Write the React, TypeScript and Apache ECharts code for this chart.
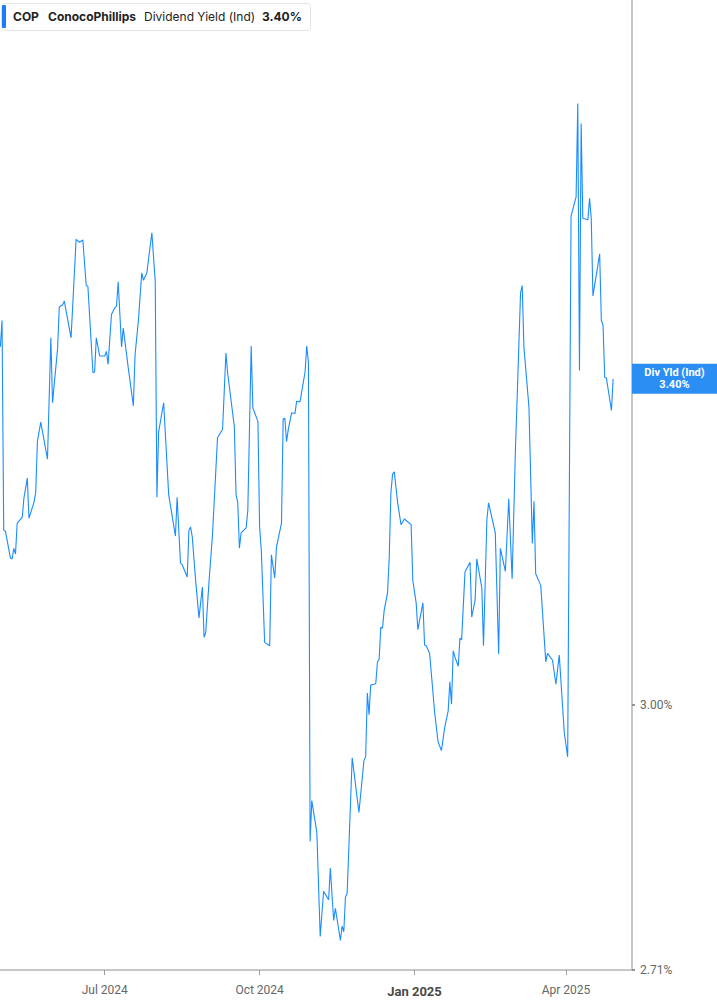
import React, { useEffect, useRef } from "react";
import * as echarts from "echarts";

const dates: string[] = [
  "2024-04-30","2024-05-01","2024-05-02","2024-05-03","2024-05-06","2024-05-07","2024-05-08","2024-05-09","2024-05-10","2024-05-13",
  "2024-05-14","2024-05-16","2024-05-17","2024-05-20","2024-05-21","2024-05-22","2024-05-24","2024-05-28","2024-05-30","2024-05-31",
  "2024-06-03","2024-06-04","2024-06-06","2024-06-07","2024-06-11","2024-06-14","2024-06-16","2024-06-18","2024-06-20","2024-06-21",
  "2024-06-24","2024-06-25","2024-06-26","2024-06-28","2024-07-01","2024-07-02","2024-07-03","2024-07-05","2024-07-07","2024-07-08",
  "2024-07-09","2024-07-11","2024-07-12","2024-07-15","2024-07-18","2024-07-19","2024-07-21","2024-07-23","2024-07-24","2024-07-26",
  "2024-07-29","2024-07-31","2024-08-01","2024-08-02","2024-08-05","2024-08-08","2024-08-12","2024-08-13","2024-08-15","2024-08-16",
  "2024-08-19","2024-08-20","2024-08-21","2024-08-22","2024-08-24","2024-08-26","2024-08-28","2024-08-29","2024-08-30","2024-09-01",
  "2024-09-03","2024-09-06","2024-09-09","2024-09-11","2024-09-12","2024-09-16","2024-09-17","2024-09-18","2024-09-19","2024-09-20",
  "2024-09-23","2024-09-24","2024-09-26","2024-09-27","2024-09-30","2024-10-01","2024-10-02","2024-10-04","2024-10-07","2024-10-08",
  "2024-10-10","2024-10-11","2024-10-14","2024-10-15","2024-10-16","2024-10-17","2024-10-18","2024-10-20","2024-10-22","2024-10-23",
  "2024-10-25","2024-10-28","2024-10-29","2024-10-30","2024-10-31","2024-11-01","2024-11-04","2024-11-06","2024-11-08","2024-11-11",
  "2024-11-12","2024-11-14","2024-11-15","2024-11-18","2024-11-19","2024-11-20","2024-11-21","2024-11-22","2024-11-25","2024-11-29",
  "2024-12-02","2024-12-03","2024-12-04","2024-12-05","2024-12-06","2024-12-08","2024-12-09","2024-12-10","2024-12-11","2024-12-12",
  "2024-12-13","2024-12-14","2024-12-16","2024-12-17","2024-12-18","2024-12-19","2024-12-20","2024-12-22","2024-12-24","2024-12-26",
  "2024-12-30","2024-12-31","2025-01-02","2025-01-03","2025-01-06","2025-01-07","2025-01-08","2025-01-10","2025-01-13","2025-01-15",
  "2025-01-17","2025-01-19","2025-01-21","2025-01-22","2025-01-23","2025-01-24","2025-01-25","2025-01-27","2025-01-28","2025-01-29",
  "2025-01-31","2025-02-03","2025-02-04","2025-02-06","2025-02-07","2025-02-10","2025-02-11","2025-02-13","2025-02-14","2025-02-18",
  "2025-02-20","2025-02-21","2025-02-24","2025-02-26","2025-02-28","2025-03-02","2025-03-03","2025-03-05","2025-03-06","2025-03-07",
  "2025-03-10","2025-03-12","2025-03-13","2025-03-14","2025-03-17","2025-03-20","2025-03-21","2025-03-24","2025-03-26","2025-03-28",
  "2025-03-31","2025-04-02","2025-04-04","2025-04-07","2025-04-08","2025-04-09","2025-04-10","2025-04-11","2025-04-14","2025-04-15",
  "2025-04-16","2025-04-17","2025-04-21","2025-04-22","2025-04-23","2025-04-24","2025-04-25","2025-04-28","2025-04-29"
];

const dividendYield: number[] = [
  3.442,3.477,3.208,3.207,3.174,3.173,3.186,3.179,3.217,3.224,
  3.248,3.273,3.223,3.243,3.255,3.319,3.344,3.297,3.454,3.369,
  3.440,3.495,3.498,3.503,3.454,3.587,3.583,3.586,3.524,3.523,
  3.408,3.409,3.454,3.430,3.430,3.436,3.419,3.485,3.494,3.496,
  3.529,3.442,3.467,3.414,3.365,3.431,3.477,3.541,3.531,3.541,
  3.596,3.529,3.249,3.331,3.369,3.252,3.201,3.249,3.168,3.166,
  3.151,3.208,3.212,3.200,3.147,3.102,3.139,3.079,3.085,3.147,
  3.202,3.324,3.335,3.434,3.408,3.338,3.252,3.243,3.186,3.205,
  3.211,3.233,3.443,3.362,3.345,3.212,3.184,3.073,3.069,3.178,
  3.150,3.187,3.217,3.348,3.349,3.319,3.334,3.356,3.355,3.371,
  3.370,3.409,3.443,3.422,2.847,2.892,2.857,2.745,2.793,2.784,
  2.818,2.762,2.775,2.741,2.756,2.750,2.787,2.791,2.940,2.879,
  2.937,2.941,3.014,2.989,3.023,3.024,3.025,3.050,3.053,3.091,
  3.090,3.111,3.132,3.175,3.255,3.278,3.281,3.242,3.215,3.222,
  3.215,3.147,3.120,3.088,3.120,3.070,3.069,3.060,2.991,2.958,
  2.948,2.975,2.993,3.027,3.001,3.063,3.056,3.045,3.078,3.076,
  3.157,3.169,3.103,3.123,3.173,3.138,3.069,3.221,3.242,3.205,
  3.059,3.186,3.158,3.247,3.149,3.312,3.376,3.514,3.524,3.442,
  3.363,3.192,3.244,3.155,3.141,3.050,3.060,3.052,3.024,3.058,
  2.968,2.941,3.619,3.646,3.779,3.411,3.750,3.616,3.614,3.644,
  3.616,3.510,3.567,3.477,3.471,3.402,3.401,3.359,3.400
];

const xTickDates: number[] = [
  new Date(2024, 6, 1).getTime(),
  new Date(2024, 9, 1).getTime(),
  new Date(2025, 0, 1).getTime(),
  new Date(2025, 3, 1).getTime(),
];
const yTickValues: number[] = [3.0, 2.71];
const monthNames = ["Jan","Feb","Mar","Apr","May","Jun","Jul","Aug","Sep","Oct","Nov","Dec"];

const X_MIN = new Date(2024, 3, 29, 19, 0).getTime();
const X_MAX = new Date(2025, 4, 10, 5, 0).getTime();
const Y_MIN = 2.71;
const Y_MAX = 3.932;

const LINE_COLOR = "#1a8cff";
const AXIS_COLOR = "#b5b5b5";

export default function App() {
  const ref = useRef<HTMLDivElement>(null);
  useEffect(() => {
    if (!ref.current) return;
    const chart = echarts.init(ref.current, undefined, { renderer: "svg" });
    const data = dates.map((d, i) => [d, dividendYield[i]]);
    const last = dividendYield[dividendYield.length - 1];
    chart.setOption({
      animation: false,
      backgroundColor: "#ffffff",
      grid: { left: 0, right: 85, top: 0, bottom: 35, containLabel: false },
      xAxis: [
        {
          type: "time",
          min: X_MIN,
          max: X_MAX,
          axisLine: { show: true, lineStyle: { color: AXIS_COLOR, width: 1.5 } },
          axisTick: { show: false },
          splitLine: { show: false },
          axisLabel: { show: false },
        },
        {
          type: "value",
          position: "bottom",
          min: X_MIN,
          max: X_MAX,
          axisLine: { show: false },
          splitLine: { show: false },
          axisTick: { show: true, customValues: xTickDates, length: 5, lineStyle: { color: "#9a9a9a", width: 1 } },
          axisLabel: {
            customValues: xTickDates,
            margin: 14,
            color: "#666",
            fontFamily: "Roboto",
            fontSize: 12,
            formatter: (v: number) => {
              const d = new Date(v);
              const s = monthNames[d.getMonth()] + " " + d.getFullYear();
              return d.getMonth() === 0 ? "{b|" + s + "}" : s;
            },
            rich: {
              b: { fontWeight: "bold", fontSize: 13, color: "#4a4a4a", fontFamily: "Roboto", padding: [1, 0, 0, 0] },
            },
          },
        },
      ],
      yAxis: {
        type: "log",
        logBase: 10,
        position: "right",
        min: Y_MIN,
        max: Y_MAX,
        axisLine: { show: true, lineStyle: { color: AXIS_COLOR, width: 1.5 } },
        axisTick: { show: true, customValues: yTickValues, length: 3, lineStyle: { color: "#777", width: 1.5 } },
        splitLine: { show: false },
        axisLabel: {
          customValues: yTickValues,
          margin: 8,
          color: "#666",
          fontFamily: "Roboto",
          fontSize: 12,
          formatter: (v: number) => v.toFixed(2) + "%",
        },
      },
      series: [
        {
          type: "line",
          xAxisIndex: 0,
          data,
          showSymbol: false,
          symbol: "none",
          lineStyle: { color: LINE_COLOR, width: 1.1 },
          silent: true,
          markLine: {
            silent: true,
            symbol: ["none", "none"],
            lineStyle: { color: "rgba(0,0,0,0)", width: 0, opacity: 1 },
            data: [{ yAxis: last }],
            label: {
              show: true,
              opacity: 1,
              position: "end",
              distance: 0,
              formatter: () => "{t|Div Yld (Ind)}\n{t|" + last.toFixed(2) + "%}",
              backgroundColor: "#2b8ef5",
              padding: [3, 0, 3, 0],
              rich: {
                t: {
                  color: "#fff",
                  fontWeight: "bold",
                  fontSize: 11,
                  lineHeight: 12,
                  width: 85,
                  align: "center",
                  fontFamily: "Roboto",
                },
              },
            },
          },
        },
      ],
      graphic: [
        {
          type: "rect",
          left: 1,
          top: 3,
          shape: { width: 309, height: 27, r: 3 },
          style: { fill: "#fff", stroke: "#e4e4e4", lineWidth: 1 },
        },
        {
          type: "rect",
          left: 2,
          top: 5,
          shape: { width: 4, height: 23, r: 1 },
          style: { fill: "#1a7cff" },
        },
        { type: "text", left: 13, top: 10, style: { text: "COP", font: "bold 12px Inter", fill: "#222" } },
        { type: "text", left: 48, top: 10, style: { text: "ConocoPhillips", font: "bold 12px Inter", fill: "#222" } },
        { type: "text", left: 144, top: 10, style: { text: "Dividend Yield (Ind)", font: "12px Inter", fill: "#222" } },
        { type: "text", left: 262, top: 10, style: { text: last.toFixed(2) + "%", font: "bold 12px Inter", fill: "#222" } },
      ],
    });
    return () => chart.dispose();
  }, []);
  return (
    <div
      ref={ref}
      style={{ position: "absolute", left: 0, top: 0, width: 717, height: 1005 }}
    />
  );
}
